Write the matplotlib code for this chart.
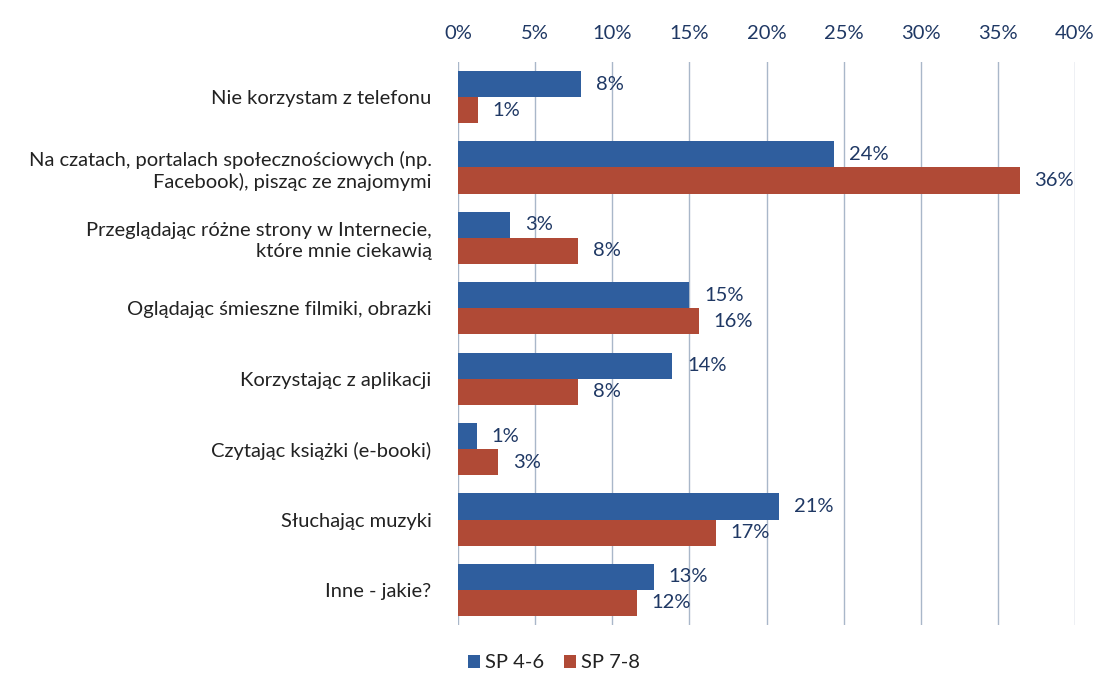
import matplotlib
matplotlib.use("Agg")
import matplotlib.pyplot as plt
from matplotlib.ticker import MultipleLocator, FuncFormatter

plt.rcParams["font.family"] = ["Lato", "DejaVu Sans"]

categories = [
    "Nie korzystam z telefonu",
    "Na czatach, portalach społecznościowych (np.\nFacebook), pisząc ze znajomymi",
    "Przeglądając różne strony w Internecie,\nktóre mnie ciekawią",
    "Oglądając śmieszne filmiki, obrazki",
    "Korzystając z aplikacji",
    "Czytając książki (e-booki)",
    "Słuchając muzyki",
    "Inne - jakie?",
]
sp_4_6 = [8.0, 24.4, 3.4, 15.0, 13.9, 1.2, 20.8, 12.7]
sp_7_8 = [1.3, 36.4, 7.8, 15.6, 7.8, 2.6, 16.7, 11.6]
series_names = ["SP 4-6", "SP 7-8"]

BLUE = "#2F5E9E"
RED = "#B04A36"
TEXT = "#1F3864"
FS = 14.5

fig = plt.figure(figsize=(10.97, 6.87), dpi=100)
ax = fig.add_axes([0.4175, 0.09, 0.5625, 0.82])

h = 0.37
y = range(len(categories))
b1 = ax.barh([i - h / 2 for i in y], sp_4_6, height=h, color=BLUE, label=series_names[0], zorder=3)
b2 = ax.barh([i + h / 2 for i in y], sp_7_8, height=h, color=RED, label=series_names[1], zorder=3)

for bars, vals in ((b1, sp_4_6), (b2, sp_7_8)):
    for bar, v in zip(bars, vals):
        ax.text(bar.get_width() + 0.95, bar.get_y() + bar.get_height() / 2, f"{v:.0f}%",
                va="center", ha="left", fontsize=FS, color=TEXT)

ax.set_xlim(0, 40)
ax.set_ylim(len(categories) - 0.5, -0.5)
ax.xaxis.set_major_locator(MultipleLocator(5))
ax.xaxis.set_major_formatter(FuncFormatter(lambda v, _: f"{v:.0f}%"))
ax.xaxis.tick_top()
ax.tick_params(axis="x", length=0, labelsize=FS, labelcolor=TEXT, pad=14)
ax.set_yticks(list(y))
ax.set_yticklabels(categories, fontsize=FS, color="#222222", ha="right", multialignment="right",
                   linespacing=1.25)
ax.tick_params(axis="y", length=0, pad=19)
ax.grid(True, axis="x", color="#A9B7C9", linewidth=1, zorder=0)
for s in ax.spines.values():
    s.set_visible(False)

fig.legend(handles=[b1, b2], labels=series_names, loc="center", bbox_to_anchor=(0.505, 0.035),
           ncol=2, frameon=False, fontsize=FS, handlelength=0.6, handleheight=0.6,
           handletextpad=0.25, columnspacing=1.0, labelcolor="#222222")

fig.savefig("out.png", dpi=100)
